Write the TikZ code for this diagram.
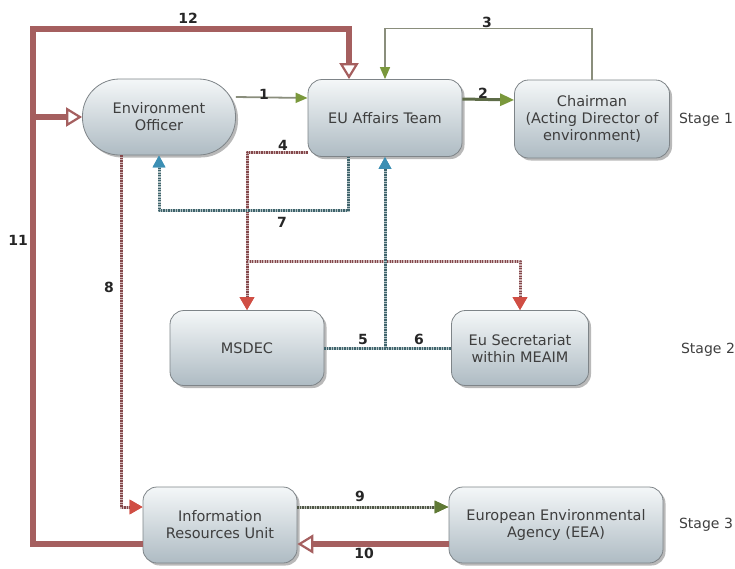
\documentclass[tikz,border=0pt]{standalone}
\usepackage{fontspec}
\setsansfont{DejaVu Sans}
\usetikzlibrary{arrows.meta, positioning, shadows}
\definecolor{boxtop}{HTML}{F4F7F8}
\definecolor{boxbot}{HTML}{AEBBC3}
\definecolor{boxline}{HTML}{7E8488}
\definecolor{txtgray}{HTML}{3E3E3E}
\definecolor{feedred}{HTML}{A55F5F}
\definecolor{zzred}{HTML}{84474A}
\definecolor{tipred}{HTML}{D04E44}
\definecolor{zzteal}{HTML}{3F646C}
\definecolor{tipteal}{HTML}{3C8FB4}
\definecolor{linegray}{HTML}{8A8E7C}
\definecolor{linegreen}{HTML}{5E6C48}
\definecolor{tipgreen}{HTML}{7A983C}
\definecolor{zzgreen}{HTML}{4F5746}
\definecolor{tipdkgreen}{HTML}{5F7935}

\begin{document}
\begin{tikzpicture}[
		x=1pt, y=-1pt,
		every node/.style={font=\sffamily\fontsize{14.5}{17}\selectfont, text=txtgray},
		box/.style={draw=boxline, line width=0.8pt, rounded corners=14pt, top color=boxtop, bottom color=boxbot,
			align=center, minimum width=154pt, minimum height=76pt, inner sep=2pt,
			drop shadow={shadow xshift=2.5pt, shadow yshift=-2.5pt, opacity=0.55}},
		stadium/.style={rounded corners=37pt},
		num/.style={font=\sffamily\bfseries\fontsize{14}{16}\selectfont, text=black!85},
		stagelbl/.style={font=\sffamily\fontsize{14}{16}\selectfont},
		plain/.style={draw=linegray, line width=1.8pt, -{Triangle[length=12pt, width=10pt, fill=tipgreen, color=tipgreen]}},
		feed/.style={draw=feedred, line width=5.5pt, -{Triangle[open, length=16pt, width=19pt, line width=2.2pt, fill=white]}},
		rope/.style={line width=3pt, line join=round, dash pattern=on 1.4pt off 1.1pt},
		ropered/.style={rope, draw=zzred, preaction={draw=zzred!40, line width=3pt}},
		ropeteal/.style={rope, draw=zzteal, preaction={draw=zzteal!40, line width=3pt}},
		ropegreen/.style={rope, draw=zzgreen, preaction={draw=zzgreen!40, line width=3pt}},
		zzr/.style={ropered, -{Triangle[length=13pt, width=14pt, fill=tipred, color=tipred]}},
		zzt/.style={ropeteal, -{Triangle[length=12pt, width=12pt, fill=tipteal, color=tipteal]}}
		]
	\useasboundingbox (0,0) rectangle (735,568);

	% Stage 1
	\node[box, stadium, minimum width=153pt, minimum height=76pt] (envoff) at (159,117) {Environment\\Officer};
	\node[box, minimum height=77pt] (euteam) at (385,118) {EU Affairs Team};
	\node[box, minimum width=155pt, minimum height=78pt] (chair) at (592,119) {Chairman\\(Acting Director of\\environment)};
	\node[stagelbl] (stage1) at (706,120) {Stage 1};
	% Stage 2
	\node[box, minimum height=75pt] (msdec) at (247,348) {MSDEC};
	\node[box, minimum width=137pt, minimum height=75pt] (eusec) at (520,348) {Eu Secretariat\\within MEAIM};
	\node[stagelbl] (stage2) at (708,350) {Stage 2};
	% Stage 3
	\node[box] (iru) at (220,525) {Information\\Resources Unit};
	\node[box, minimum width=214pt] (eea) at (556,525) {European Environmental\\Agency (EEA)};
	\node[stagelbl] (stage3) at (706,525) {Stage 3};

	% feedback loop
	\coordinate (topleft) at (33,29);
	\draw[feed] ([yshift=-19pt]iru.west) -| (topleft) -| ([xshift=-36pt]euteam.north);
	\draw[feed] (topleft |- envoff.west) -- (envoff.west);
	\draw[feed] ([yshift=-19pt]eea.west) -- ([yshift=-19pt]iru.east);

	% stage 1 links
	\draw[plain] ([yshift=20pt]envoff.east) -- ([yshift=20pt]euteam.west);
	\draw[plain, draw=linegreen, line width=3pt, -{Triangle[length=14pt, width=12pt, fill=tipgreen, color=tipgreen]}] ([yshift=19pt]euteam.east) -- ([yshift=19pt]chair.west);
	\draw[plain, line width=1.6pt] (chair.north) -- ++(0,-51) -| (euteam.north);

	% dotted links
	\draw[zzr] ([yshift=-34pt]euteam.west) -| (msdec.north);
	\coordinate (split4) at (247,261);
	\draw[zzr] (split4) -| (eusec.north);
	\draw[zzt] ([xshift=-37pt]euteam.south) -- ++(0,54) -| (envoff.south);
	\draw[ropeteal] (msdec.east) -- (eusec.west);
	\coordinate (join56) at (euteam.south |- msdec.east);
	\draw[zzt] (join56) -- (euteam.south);
	\draw[zzr] ([xshift=-38pt]envoff.south) |- ([yshift=18pt]iru.west);
	\draw[ropegreen, -{Triangle[length=14pt, width=12pt, fill=tipdkgreen, color=tipdkgreen]}] ([yshift=18pt]iru.east) -- ([yshift=18pt]eea.west);

	% numbers
	\node[num] (n1) at (264,94) {1};
	\node[num] (n2) at (483,93) {2};
	\node[num] (n3) at (487,22) {3};
	\node[num] (n4) at (283,145) {4};
	\node[num] (n5) at (363,339) {5};
	\node[num] (n6) at (419,339) {6};
	\node[num] (n7) at (282,222) {7};
	\node[num] (n8) at (109,287) {8};
	\node[num] (n9) at (360,496) {9};
	\node[num] (n10) at (364,553) {10};
	\node[num] (n11) at (18,240) {11};
	\node[num] (n12) at (188,18) {12};
\end{tikzpicture}
\end{document}
